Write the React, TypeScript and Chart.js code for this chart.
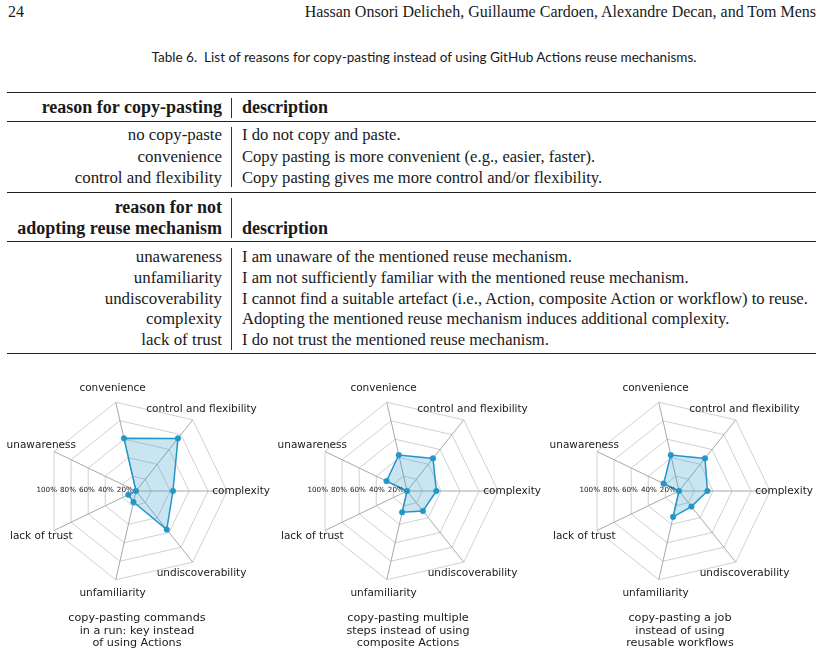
import React, { useEffect, useRef } from "react";
import { Chart, registerables } from "chart.js";

Chart.register(...registerables);

// ---------- data ----------
const axisLabels = [
  "complexity",
  "undiscoverability",
  "unfamiliarity",
  "lack of trust",
  "unawareness",
  "convenience",
  "control and flexibility",
];
const tickValues = [20, 40, 60, 80, 100];
const tickLabels = ["20%", "40%", "60%", "80%", "100%"];
const scaleMin = 4;
const scaleMax = 100;

const runKeyValues = [43, 56, 16, 13, 4, 61, 75];
const compositeValues = [35, 31, 27, 4, 28, 43, 48];
const reusableValues = [34, 25, 32, 4, 22, 43, 48];

const runKeyTitle = ["copy-pasting commands", "in a run: key instead", "of using Actions"];
const compositeTitle = ["copy-pasting multiple", "steps instead of using", "composite Actions"];
const reusableTitle = ["copy-pasting a job", "instead of using", "reusable workflows"];

const pageNumber = "24";
const authors = "Hassan Onsori Delicheh, Guillaume Cardoen, Alexandre Decan, and Tom Mens";
const caption = "Table 6.  List of reasons for copy-pasting instead of using GitHub Actions reuse mechanisms.";

const copyHeader = "reason for copy-pasting";
const copyReasons = ["no copy-paste", "convenience", "control and flexibility"];
const copyDescriptions = [
  "I do not copy and paste.",
  "Copy pasting is more convenient (e.g., easier, faster).",
  "Copy pasting gives me more control and/or flexibility.",
];
const reuseHeader = ["reason for not", "adopting reuse mechanism"];
const reuseReasons = ["unawareness", "unfamiliarity", "undiscoverability", "complexity", "lack of trust"];
const reuseDescriptions = [
  "I am unaware of the mentioned reuse mechanism.",
  "I am not sufficiently familiar with the mentioned reuse mechanism.",
  "I cannot find a suitable artefact (i.e., Action, composite Action or workflow) to reuse.",
  "Adopting the mentioned reuse mechanism induces additional complexity.",
  "I do not trust the mentioned reuse mechanism.",
];
const descriptionHeader = "description";

// ---------- styles ----------
const BLUE = "rgb(35,150,200)";
const BLUE_FILL = "rgba(35,150,200,0.25)";
const CW = 280;
const CH = 290;

const overlayPlugin = {
  id: "radarOverlay",
  afterDraw(chart: any, _args: any, opts: any) {
    const scale = chart.scales.r;
    const ctx = chart.ctx;
    ctx.save();
    ctx.fillStyle = "#1a1a1a";
    ctx.font = "10.5px 'DejaVu Sans'";
    ctx.textAlign = "center";
    ctx.textBaseline = "middle";
    (chart.data.labels as string[]).forEach((lab, i) => {
      const p = scale.getPointPosition(i, scale.drawingArea * 1.155);
      ctx.fillText(lab, p.x, p.y);
    });
    ctx.font = "7.2px 'DejaVu Sans'";
    ctx.textAlign = "right";
    ctx.textBaseline = "alphabetic";
    tickValues.forEach((v, i) => {
      const d = scale.getDistanceFromCenterForValue(v);
      ctx.fillText(tickLabels[i], scale.xCenter - d + 12, scale.yCenter + 0.5);
    });
    ctx.font = "11.2px 'DejaVu Sans'";
    ctx.textAlign = "center";
    ctx.textBaseline = "middle";
    (opts.title as string[]).forEach((line, i) => {
      ctx.fillText(line, scale.xCenter + 1, scale.yCenter + 127.5 + i * 12.2);
    });
    ctx.restore();
  },
};

function Radar({ values, title, left, top }: { values: number[]; title: string[]; left: number; top: number }) {
  const ref = useRef<HTMLCanvasElement | null>(null);
  useEffect(() => {
    if (!ref.current) return;
    const chart = new Chart(ref.current, {
      type: "radar",
      data: {
        labels: axisLabels,
        datasets: [
          {
            data: values,
            borderColor: BLUE,
            backgroundColor: BLUE_FILL,
            borderWidth: 1.5,
            fill: true,
            pointRadius: 2.8,
            pointBorderWidth: 0.5,
            pointBackgroundColor: BLUE,
            pointBorderColor: BLUE,
          },
        ],
      },
      options: {
        responsive: false,
        animation: false,
        devicePixelRatio: 1,
        layout: { padding: { left: 49, right: 49, top: 34, bottom: 74 } },
        plugins: {
          legend: { display: false },
          tooltip: { enabled: false },
          radarOverlay: { title },
        } as any,
        scales: {
          r: {
            min: scaleMin,
            max: scaleMax,
            startAngle: 90,
            ticks: { display: false, stepSize: 20 },
            afterBuildTicks: (s: any) => {
              s.ticks = [scaleMin, ...tickValues].map((v) => ({ value: v }));
            },
            pointLabels: { display: false },
            grid: { color: "#d0d0d0", lineWidth: 1 },
            angleLines: { color: "#a8a8a8", lineWidth: 1 },
          } as any,
        },
      },
      plugins: [overlayPlugin],
    });
    return () => chart.destroy();
  }, []);
  return (
    <canvas
      ref={ref}
      width={CW}
      height={CH}
      style={{ position: "absolute", left, top, width: CW, height: CH }}
    />
  );
}

const serif = "'Liberation Serif', 'DejaVu Serif', serif";
const ink = "#1a1a1a";

function Rule({ top, h }: { top: number; h: number }) {
  return <div style={{ position: "absolute", left: 7, width: 809, top, height: h, background: "#222" }} />;
}
function VBar({ top, bottom }: { top: number; bottom: number }) {
  return <div style={{ position: "absolute", left: 231, width: 1, top, height: bottom - top, background: "#333" }} />;
}
function LeftCell({ text, center, bold }: { text: string; center: number; bold?: boolean }) {
  return (
    <div
      style={{
        position: "absolute",
        right: 823 - 222,
        top: center - 10,
        fontFamily: serif,
        fontSize: bold ? 18 : 16.9,
        lineHeight: "20px",
        fontWeight: bold ? 700 : 400,
        whiteSpace: "nowrap",
        color: ink,
        textAlign: "right",
      }}
    >
      {text}
    </div>
  );
}
function RightCell({ text, center, bold }: { text: string; center: number; bold?: boolean }) {
  return (
    <div
      style={{
        position: "absolute",
        left: 242,
        top: center - 10,
        fontFamily: serif,
        fontSize: bold ? 18 : 16.6,
        lineHeight: "20px",
        fontWeight: bold ? 700 : 400,
        whiteSpace: "nowrap",
        color: ink,
      }}
    >
      {text}
    </div>
  );
}

export default function App() {
  const copyCenters = [135, 157, 178];
  const reuseCenters = [257, 277.5, 298.5, 319, 340];
  return (
    <div style={{ position: "absolute", left: 0, top: 0, width: 823, height: 655, background: "#fff", overflow: "hidden" }}>
      <div style={{ position: "absolute", left: 8, top: 3, fontFamily: serif, fontSize: 16, lineHeight: "18px", color: ink }}>
        {pageNumber}
      </div>
      <div
        style={{
          position: "absolute",
          right: 7,
          top: 3,
          fontFamily: serif,
          fontSize: 16,
          lineHeight: "18px",
          color: ink,
          whiteSpace: "nowrap",
        }}
      >
        {authors}
      </div>
      <div
        style={{
          position: "absolute",
          left: 424,
          top: 49,
          transform: "translateX(-50%)",
          fontFamily: "Lato, 'Open Sans', sans-serif",
          fontSize: 13.55,
          lineHeight: "16px",
          color: ink,
          whiteSpace: "pre",
        }}
      >
        {caption}
      </div>

      <Rule top={91.5} h={1.4} />
      <LeftCell text={copyHeader} center={106.5} bold />
      <RightCell text={descriptionHeader} center={106.5} bold />
      <VBar top={98} bottom={118} />
      <Rule top={120.5} h={1} />
      {copyReasons.map((r, i) => (
        <LeftCell key={r} text={r} center={copyCenters[i]} />
      ))}
      {copyDescriptions.map((d, i) => (
        <RightCell key={d} text={d} center={copyCenters[i]} />
      ))}
      <VBar top={127} bottom={187} />
      <Rule top={191.5} h={1.4} />
      <LeftCell text={reuseHeader[0]} center={207} bold />
      <LeftCell text={reuseHeader[1]} center={228} bold />
      <RightCell text={descriptionHeader} center={228} bold />
      <VBar top={198} bottom={238} />
      <Rule top={241} h={1} />
      {reuseReasons.map((r, i) => (
        <LeftCell key={r} text={r} center={reuseCenters[i]} />
      ))}
      {reuseDescriptions.map((d, i) => (
        <RightCell key={d} text={d} center={reuseCenters[i]} />
      ))}
      <VBar top={248} bottom={350} />
      <Rule top={353} h={1.4} />

      <Radar values={runKeyValues} title={runKeyTitle} left={-4} top={366} />
      <Radar values={compositeValues} title={compositeTitle} left={267} top={366} />
      <Radar values={reusableValues} title={reusableTitle} left={539} top={366} />
    </div>
  );
}
